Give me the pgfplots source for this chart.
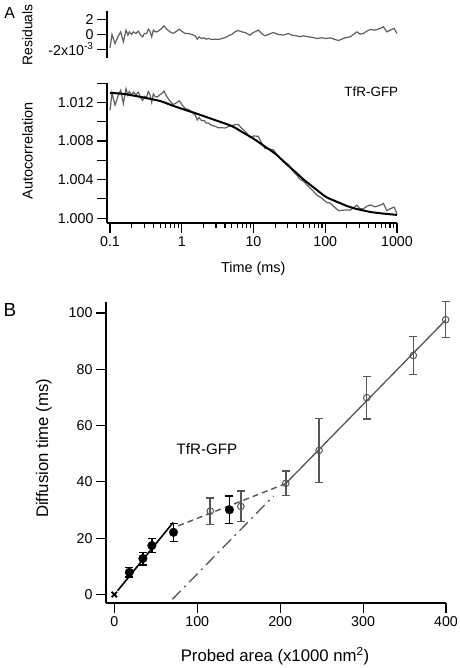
\documentclass[border=0pt]{standalone}
\usepackage{pgfplots}
\pgfplotsset{compat=1.18}
\usepackage{fontspec}
\setmainfont{Liberation Sans}
\definecolor{dgray}{RGB}{85,85,85}
\definecolor{lgray}{RGB}{95,95,95}
\pgfplotsset{
  myaxis/.style={scale only axis, anchor=south west, tick align=outside,
    major tick length=10bp, minor tick length=5bp,
    every tick/.style={black, line width=1.1bp},
    axis line style={line width=1.3bp},
    tick label style={font=\fontsize{14.3}{16}\selectfont},
    /pgf/number format/assume math mode=true,
    clip=false},
}
\begin{document}
\begin{tikzpicture}
\useasboundingbox (0bp,0bp) rectangle (460bp,668bp);
% ---------------- Residuals ----------------
\begin{axis}[myaxis, at={(107bp,610bp)}, width=290bp, height=47bp,
  xmode=log, xmin=0.0908, xmax=1000, ymin=-3.2, ymax=3.2,
  axis x line=none, axis y line*=left,
  ytick={-2,0,2}, yticklabels={{-2x10\textsuperscript{-3}},0,2}]
\addplot[lgray, line width=1.2bp] coordinates {
(0.1,-1.82) (0.1067,0) (0.1175,-1.23) (0.1306,-0.18) (0.1409,0.36) (0.1535,-1.0)
(0.1671,0.59) (0.1778,-0.09) (0.1858,0.36) (0.2004,0) (0.2113,0.36) (0.2301,0.14)
(0.2483,0.45) (0.2679,-0.09) (0.2851,-0.32) (0.302,0.14) (0.3243,0.14) (0.342,0.73)
(0.3606,0.45) (0.3811,-0.32) (0.4018,0.59) (0.4236,0.36) (0.4571,0.36) (0.4875,0.59)
(0.5248,0.82) (0.5662,1.18) (0.6166,0.73) (0.6855,0.36) (0.7621,0.14) (0.8492,0.45)
(0.9247,0.73) (1.0,0.45) (1.109,0.14) (1.236,0.14) (1.377,0) (1.535,-0.18)
(1.648,-0.64) (1.738,-0.32) (1.897,-0.55) (2.042,-0.45) (2.188,-0.64) (2.344,-0.55)
(2.612,-0.68) (2.904,-0.64) (3.236,-0.68) (3.597,-0.55) (4.009,-0.45) (4.457,-0.18)
(4.966,0) (5.521,0.36) (6.166,0.55) (6.839,0.36) (7.621,0.27) (8.933,-0.09)
(9.954,0.27) (11.67,0.59) (13.0,0.14) (14.45,-0.18) (16.11,0) (18.92,0.27)
(22.18,0) (26.06,-0.09) (30.62,0.14) (34.04,-0.09) (39.99,-0.18) (44.46,-0.32)
(49.55,-0.18) (58.08,-0.32) (68.23,-0.41) (76.03,-0.55) (89.33,-0.45) (104.7,-0.55)
(116.7,-0.45) (137.1,-0.68) (152.4,-0.82) (169.8,-0.64) (188.8,-0.45) (221.8,-0.32)
(247.2,0) (274.8,0.36) (306.2,0.05) (340.4,0.14) (379.3,0.45) (421.7,0.68)
(495.5,0.59) (582.1,0.82) (647.1,1.05) (721.1,0.36) (801.7,0.59) (912.0,0.82) (1000,0.14)};
\end{axis}
% ---------------- Autocorrelation ----------------
\begin{axis}[myaxis, at={(107bp,445bp)}, width=290bp, height=139.8bp,
  xmode=log, xmin=0.0908, xmax=1000, ymin=0.9995, ymax=1.014,
  axis x line*=bottom, axis y line*=left,
  xtick={0.1,1,10,100,1000}, xticklabels={0.1,1,10,100,1000},
  minor xtick={0.2,0.3,0.4,0.5,0.6,0.7,0.8,0.9,2,3,4,5,6,7,8,9,20,30,40,50,60,70,80,90,200,300,400,500,600,700,800,900},
  ytick={1.000,1.002,1.004,1.006,1.008,1.010,1.012,1.014},
  yticklabels={1.000,,1.004,,1.008,,1.012,}]
\addplot[lgray, line width=1.2bp] coordinates {
(0.1,1.01118) (0.1067,1.01298) (0.1175,1.01173) (0.1306,1.01275) (0.1409,1.01327) (0.1535,1.01189)
(0.1671,1.01343) (0.1778,1.01272) (0.1858,1.01315) (0.2004,1.01275) (0.2113,1.01308) (0.2301,1.01280)
(0.2483,1.01307) (0.2679,1.01248) (0.2851,1.01221) (0.302,1.01264) (0.3243,1.01259) (0.342,1.01314)
(0.3606,1.01282) (0.3811,1.01202) (0.4018,1.01289) (0.4236,1.01262) (0.4571,1.01257) (0.4875,1.01276)
(0.5248,1.01291) (0.5662,1.01318) (0.6166,1.01263) (0.6855,1.01213) (0.7621,1.01179) (0.8492,1.01198)
(0.9247,1.01217) (1.0,1.01180) (1.109,1.01138) (1.236,1.01127) (1.377,1.01101) (1.535,1.01071)
(1.648,1.01018) (1.738,1.01044) (1.897,1.01011) (2.042,1.01013) (2.188,1.00986) (2.344,1.00987)
(2.612,1.00962) (2.904,1.00954) (3.236,1.00937) (3.597,1.00938) (4.009,1.00935) (4.457,1.00950)
(4.966,1.00956) (5.521,1.00972) (6.166,1.00971) (6.839,1.00932) (7.621,1.00903) (8.933,1.00837)
(9.954,1.00853) (11.67,1.00849) (13.0,1.00780) (14.45,1.00724) (16.11,1.00718) (18.92,1.00709)
(22.18,1.00639) (26.06,1.00583) (30.62,1.00558) (34.04,1.00504) (39.99,1.00448) (44.46,1.00403)
(49.55,1.00385) (58.08,1.00330) (68.23,1.00280) (76.03,1.00239) (89.33,1.00208) (104.7,1.00163)
(116.7,1.00157) (137.1,1.00109) (152.4,1.00080) (169.8,1.00081) (188.8,1.00084) (221.8,1.00084)
(247.2,1.00106) (274.8,1.00135) (306.2,1.00097) (340.4,1.00098) (379.3,1.00122) (421.7,1.00138)
(495.5,1.00118) (582.1,1.00134) (647.1,1.00152) (721.1,1.00079) (801.7,1.00097) (912.0,1.00115) (1000,1.00044)};
\addplot[black, line width=2bp, smooth] coordinates {
(0.1,1.01300) (0.15,1.01290) (0.2,1.01275) (0.3,1.01250) (0.5,1.01215) (0.7,1.01175)
(1,1.01135) (1.5,1.01092) (2,1.01060) (3,1.01014) (5,1.00955) (7,1.00892)
(10,1.00825) (15,1.00734) (20,1.00670) (30,1.00550) (40,1.00466) (50,1.00400)
(70,1.00315) (100,1.00225) (130,1.00185) (160,1.00157) (200,1.00127) (250,1.00103)
(300,1.00089) (400,1.00068) (500,1.00057) (700,1.00045) (1000,1.00034)};
\end{axis}
% ---------------- Panel B ----------------
\begin{axis}[myaxis, at={(106bp,65bp)}, width=340bp, height=301.3bp,
  xmin=-10, xmax=400, ymin=-3, ymax=104,
  axis x line*=bottom, axis y line*=left,
  xtick={0,100,200,300,400}, ytick={0,20,40,60,80,100}]
\addplot[dgray, line width=1.3bp, dash pattern=on 12bp off 5bp on 2bp off 5bp] coordinates {(70,-1.7) (192,35)};
\addplot[dgray, line width=1.4bp, dash pattern=on 6bp off 4bp] coordinates {(77,24.4) (206,39.3)};
\addplot[dgray, line width=1.3bp] coordinates {(206.8,39.45) (400,97.6)};
\addplot[black, line width=1.6bp] coordinates {(4,1.37) (71,25.6)};
\addplot[dgray, only marks, mark=o, mark size=3.3bp, mark options={line width=1bp},
  error bars/.cd, y dir=both, y explicit,
  error bar style={line width=1.5bp},
  error mark options={rotate=90, mark size=4bp, line width=1.5bp}]
  coordinates {
  (115.7,29.6) +- (0,4.7)
  (152.6,31.3) +- (0,5.4)
  (206.8,39.5) +- (0,4.3)
  (247,51.2) +- (0,11.4)
  (304.4,69.9) +- (0,7.5)
  (360.6,84.9) +- (0,6.7)
  (399.6,97.6) +- (0,6.4)};
\addplot[black, only marks, mark=*, mark size=4.3bp,
  error bars/.cd, y dir=both, y explicit,
  error bar style={line width=1.6bp},
  error mark options={rotate=90, mark size=4bp, line width=1.6bp}]
  coordinates {
  (18.1,7.9) +- (0,1.7)
  (34.5,12.8) +- (0,2.2)
  (45.3,17.4) +- (0,2.5)
  (71.4,22.1) +- (0,3.2)
  (138.9,30.1) +- (0,4.8)};
\addplot[black, only marks, mark=x, mark size=3.8bp, mark options={line width=1.9bp}] coordinates {(0,0)};
\end{axis}
% ---------------- texts ----------------
\node[font=\fontsize{16}{18}\selectfont] at (9.7bp,655.3bp) {A};
\node[font=\fontsize{19}{21}\selectfont] at (10bp,358.3bp) {B};
\node[rotate=90, font=\fontsize{14}{16}\selectfont] at (27.5bp,633bp) {Residuals};
\node[rotate=90, font=\fontsize{14.5}{16}\selectfont] at (27.5bp,517bp) {Autocorrelation};
\node[font=\fontsize{14.5}{16}\selectfont] at (253.3bp,399.7bp) {Time (ms)};
\node[font=\fontsize{13.5}{16}\selectfont] at (371.3bp,576bp) {TfR-GFP};
\node[rotate=90, font=\fontsize{16.8}{18}\selectfont] at (43.8bp,219.7bp) {Diffusion time (ms)};
\node[font=\fontsize{15.2}{17}\selectfont] at (207bp,219.2bp) {TfR-GFP};
\node[font=\fontsize{16.8}{18}\selectfont] at (275bp,12bp) {Probed area (x1000 nm\textsuperscript{2})};
\end{tikzpicture}
\end{document}
